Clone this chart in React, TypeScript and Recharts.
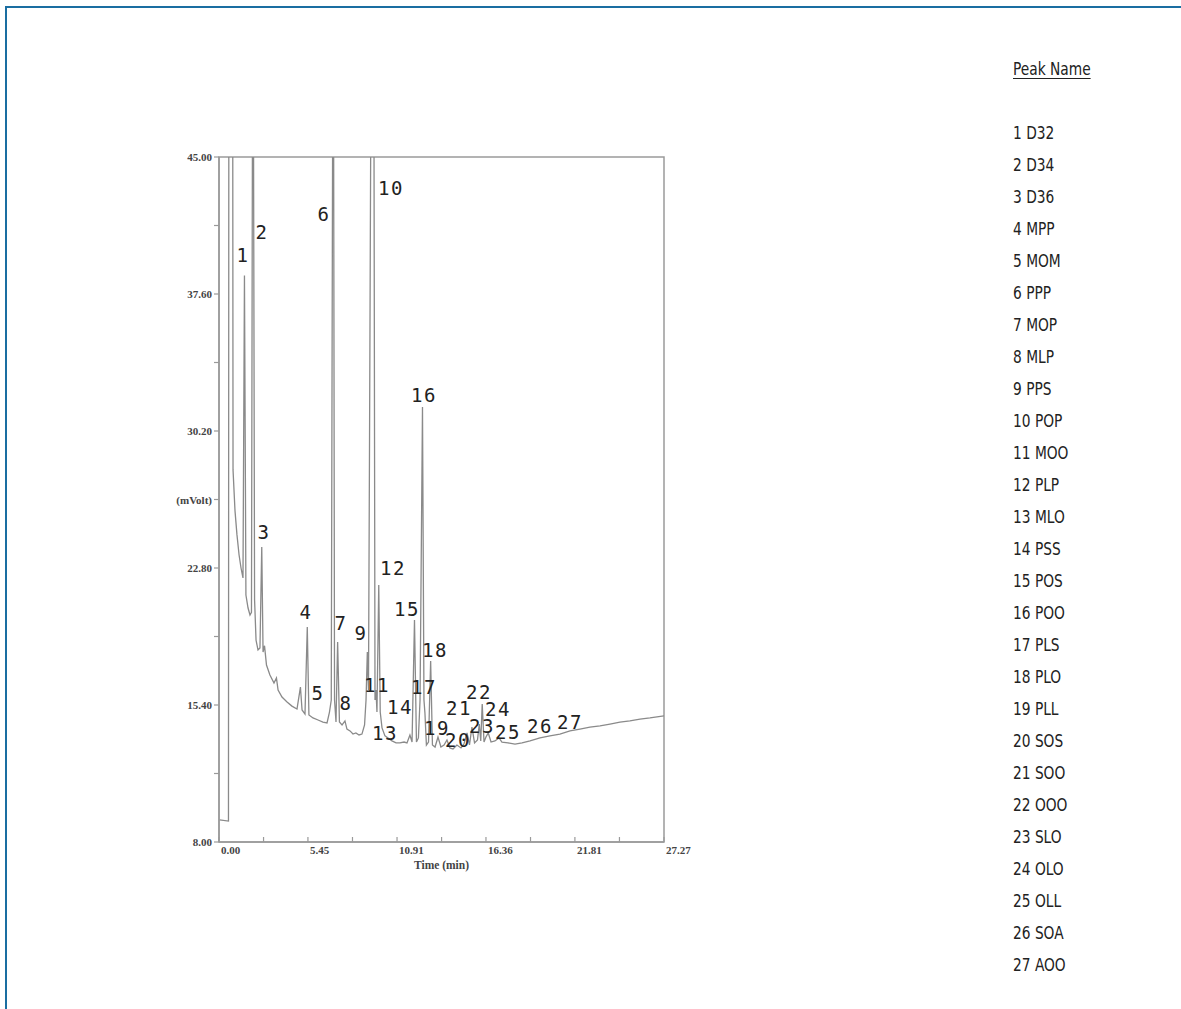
import React from 'react';
import { LineChart, Line, XAxis, YAxis, ReferenceArea, ReferenceDot, Label } from 'recharts';

// Chromatogram trace: [time (min), signal (mVolt)]
const tracePoints: [number, number][] = [
  [0.03, 9.19], [0.58, 9.13], [0.61, 60], [0.83, 60], [0.86, 28.1], [0.98, 25.9],
  [1.10, 24.6], [1.23, 23.5], [1.35, 22.8], [1.47, 22.26], [1.56, 38.6], [1.65, 21.34],
  [1.78, 20.64], [1.90, 20.26], [1.99, 20.4], [2.08, 60], [2.18, 21.07], [2.27, 18.9],
  [2.39, 18.37], [2.51, 18.48], [2.62, 23.93], [2.70, 18.26], [2.79, 18.6], [2.91, 17.56],
  [3.12, 17.02], [3.37, 16.59], [3.52, 16.86], [3.62, 16.21], [3.86, 15.83], [4.17, 15.56],
  [4.47, 15.34], [4.78, 15.18], [4.99, 16.37], [5.09, 15.13], [5.27, 14.91], [5.41, 19.61],
  [5.51, 14.86], [5.76, 14.70], [6.07, 14.59], [6.37, 14.48], [6.62, 14.43], [6.77, 15.02],
  [6.88, 15.67], [7.00, 60], [7.08, 15.67], [7.17, 14.48], [7.27, 18.80], [7.38, 14.48],
  [7.54, 14.32], [7.72, 14.54], [7.84, 14.10], [8.03, 14.0], [8.21, 13.83], [8.39, 13.89],
  [8.58, 13.78], [8.76, 13.83], [8.92, 14.32], [9.01, 15.67], [9.09, 18.26], [9.16, 16.21],
  [9.22, 28.6], [9.36, 60], [9.47, 60], [9.56, 15.67], [9.62, 16.21], [9.68, 15.02],
  [9.79, 21.88], [9.88, 15.02], [9.99, 14.16], [10.17, 13.73], [10.36, 13.62], [10.60, 13.46],
  [10.85, 13.35], [11.09, 13.35], [11.34, 13.40], [11.52, 13.35], [11.70, 13.78], [11.83, 13.40],
  [11.98, 19.99], [12.10, 13.40], [12.22, 13.62], [12.32, 15.67], [12.47, 31.50], [12.56, 15.67],
  [12.62, 14.97], [12.71, 13.24], [12.84, 13.40], [12.97, 17.78], [13.08, 13.24], [13.24, 13.13],
  [13.42, 13.67], [13.60, 13.13], [13.79, 13.24], [13.97, 13.51], [14.15, 13.08], [14.34, 13.02],
  [14.58, 13.24], [14.83, 13.08], [15.01, 13.29], [15.20, 13.89], [15.35, 13.24], [15.50, 14.21],
  [15.66, 13.35], [15.84, 13.51], [15.95, 14.37], [16.04, 13.46], [16.13, 15.45], [16.24, 13.40],
  [16.36, 13.67], [16.50, 13.89], [16.67, 13.40], [16.91, 13.46], [17.16, 13.62], [17.34, 13.40],
  [17.71, 13.35], [18.14, 13.29], [18.57, 13.35], [19.06, 13.46], [19.67, 13.62], [20.28, 13.73],
  [20.89, 13.83], [21.51, 14.0], [22.12, 14.10], [22.73, 14.21], [23.35, 14.27], [23.96, 14.37],
  [24.57, 14.48], [25.18, 14.54], [25.80, 14.64], [26.41, 14.70], [27.27, 14.81],
];

// Peak number annotations (anchor in data units: time, mVolt)
const peakNumbers = ['1','2','3','4','5','6','7','8','9','10','11','12','13','14','15','16','17','18','19','20','21','22','23','24','25','26','27'];
const peakLabelTime = [1.47, 2.63, 2.76, 5.33, 6.07, 6.43, 7.48, 7.78, 8.70, 10.54, 9.68, 10.66, 10.17, 11.09, 11.52, 12.56, 12.56, 13.24, 13.36, 14.64, 14.71, 15.93, 16.12, 17.10, 17.71, 19.67, 21.51];
const peakLabelSignal = [39.71, 40.95, 24.74, 20.42, 16.05, 41.92, 19.83, 15.51, 19.29, 43.32, 16.48, 22.80, 13.89, 15.29, 20.58, 32.14, 16.37, 18.37, 14.16, 13.51, 15.24, 16.10, 14.27, 15.18, 13.94, 14.27, 14.48];
const peakNames = ['D32','D34','D36','MPP','MOM','PPP','MOP','MLP','PPS','POP','MOO','PLP','MLO','PSS','POS','POO','PLS','PLO','PLL','SOS','SOO','OOO','SLO','OLO','OLL','SOA','AOO'];

const xTicks = [0, 2.73, 5.45, 8.18, 10.91, 13.64, 16.36, 19.09, 21.81, 24.54, 27.27];
const xTickLabels = ['0.00', '', '5.45', '', '10.91', '', '16.36', '', '21.81', '', '27.27'];
const yTicks = [8, 11.7, 15.4, 19.1, 22.8, 26.5, 30.2, 33.9, 37.6, 41.3, 45];
const yTickLabels = ['8.00', '', '15.40', '', '22.80', '(mVolt)', '30.20', '', '37.60', '', '45.00'];

const data = tracePoints.map(([t, v]) => ({ t, v }));

const axisColor = '#9a9a9a';
const tickFont = { fontFamily: '"Liberation Serif", serif', fontSize: 11, fontWeight: 700, fill: '#444' };

const findLabel = (ticks: number[], labels: string[], value: number) => {
  const i = ticks.findIndex((t) => Math.abs(t - value) < 1e-6);
  return i >= 0 ? labels[i] : '';
};

const XTick = (props: any) => {
  const { x, y, payload } = props;
  const label = findLabel(xTicks, xTickLabels, payload.value);
  return (
    <g>
      <line x1={x} y1={y} x2={x} y2={y - 5} stroke={axisColor} strokeWidth={1.2} />
      {label && (
        <text x={x + 2} y={y + 12} textAnchor="start" {...tickFont}>{label}</text>
      )}
    </g>
  );
};

const YTick = (props: any) => {
  const { x, y, payload } = props;
  const label = findLabel(yTicks, yTickLabels, payload.value);
  return (
    <g>
      <line x1={x} y1={y} x2={x - 5} y2={y} stroke={axisColor} strokeWidth={1.2} />
      {label && (
        <text x={x - 7} y={y + 4} textAnchor="end" {...tickFont}>{label}</text>
      )}
    </g>
  );
};

export default function App() {
  return (
    <div style={{ position: 'absolute', left: 0, top: 0, width: 1181, height: 1009, background: '#fff', overflow: 'hidden' }}>
      <div style={{ position: 'absolute', left: 5, top: 6, width: 1176, height: 1003, borderTop: '2px solid #1a6ea1', borderLeft: '2px solid #1a6ea1' }} />
      <div style={{ position: 'absolute', left: 0, top: 0 }}>
        <LineChart width={700} height={880} data={data} margin={{ top: 157, right: 36, left: 0, bottom: 8 }}>
          <XAxis
            dataKey="t"
            type="number"
            domain={[0, 27.27]}
            ticks={xTicks}
            interval={0}
            allowDataOverflow
            height={30}
            tickSize={0}
            tickMargin={0}
            tickLine={false}
            axisLine={{ stroke: axisColor, strokeWidth: 1.5 }}
            tick={<XTick />}
          >
            <Label value="Time (min)" position="insideBottom" offset={3} style={{ fontFamily: '"Liberation Serif", serif', fontSize: 11.5, fontWeight: 700, fill: '#444' }} />
          </XAxis>
          <YAxis
            type="number"
            domain={[8, 45]}
            ticks={yTicks}
            interval={0}
            allowDataOverflow
            width={219}
            tickSize={0}
            tickMargin={0}
            tickLine={false}
            axisLine={{ stroke: axisColor, strokeWidth: 1.5 }}
            tick={<YTick />}
          />
          <ReferenceArea x1={0} x2={27.27} y1={8} y2={45} fill="none" fillOpacity={0} stroke={axisColor} strokeWidth={1.5} ifOverflow="visible" />
          <Line
            type="linear"
            dataKey="v"
            stroke="#8a8a8a"
            strokeWidth={1.3}
            dot={false}
            activeDot={false}
            isAnimationActive={false}
          />
          {peakNumbers.map((n, i) => (
            <ReferenceDot
              key={n}
              x={peakLabelTime[i]}
              y={peakLabelSignal[i]}
              r={0}
              fill="none"
              stroke="none"
              ifOverflow="visible"
              label={{
                value: n,
                position: 'center',
                fill: '#222',
                fontSize: 19,
                fontFamily: '"DejaVu Sans Mono", monospace',
                letterSpacing: 1.5,
              }}
            />
          ))}
        </LineChart>
      </div>
      <div style={{ position: 'absolute', left: 1013, top: 56, fontFamily: '"DejaVu Sans Condensed", sans-serif', fontSize: 18, color: '#222', lineHeight: '26px', transform: 'scaleX(0.85)', transformOrigin: 'left top' }}>
        <div style={{ textDecoration: 'underline', textUnderlineOffset: 3 }}>Peak Name</div>
        <div style={{ marginTop: 35 }}>
          {peakNames.map((name, i) => (
            <div key={name} style={{ height: 32, lineHeight: '32px' }}>{`${peakNumbers[i]} ${name}`}</div>
          ))}
        </div>
      </div>
    </div>
  );
}
